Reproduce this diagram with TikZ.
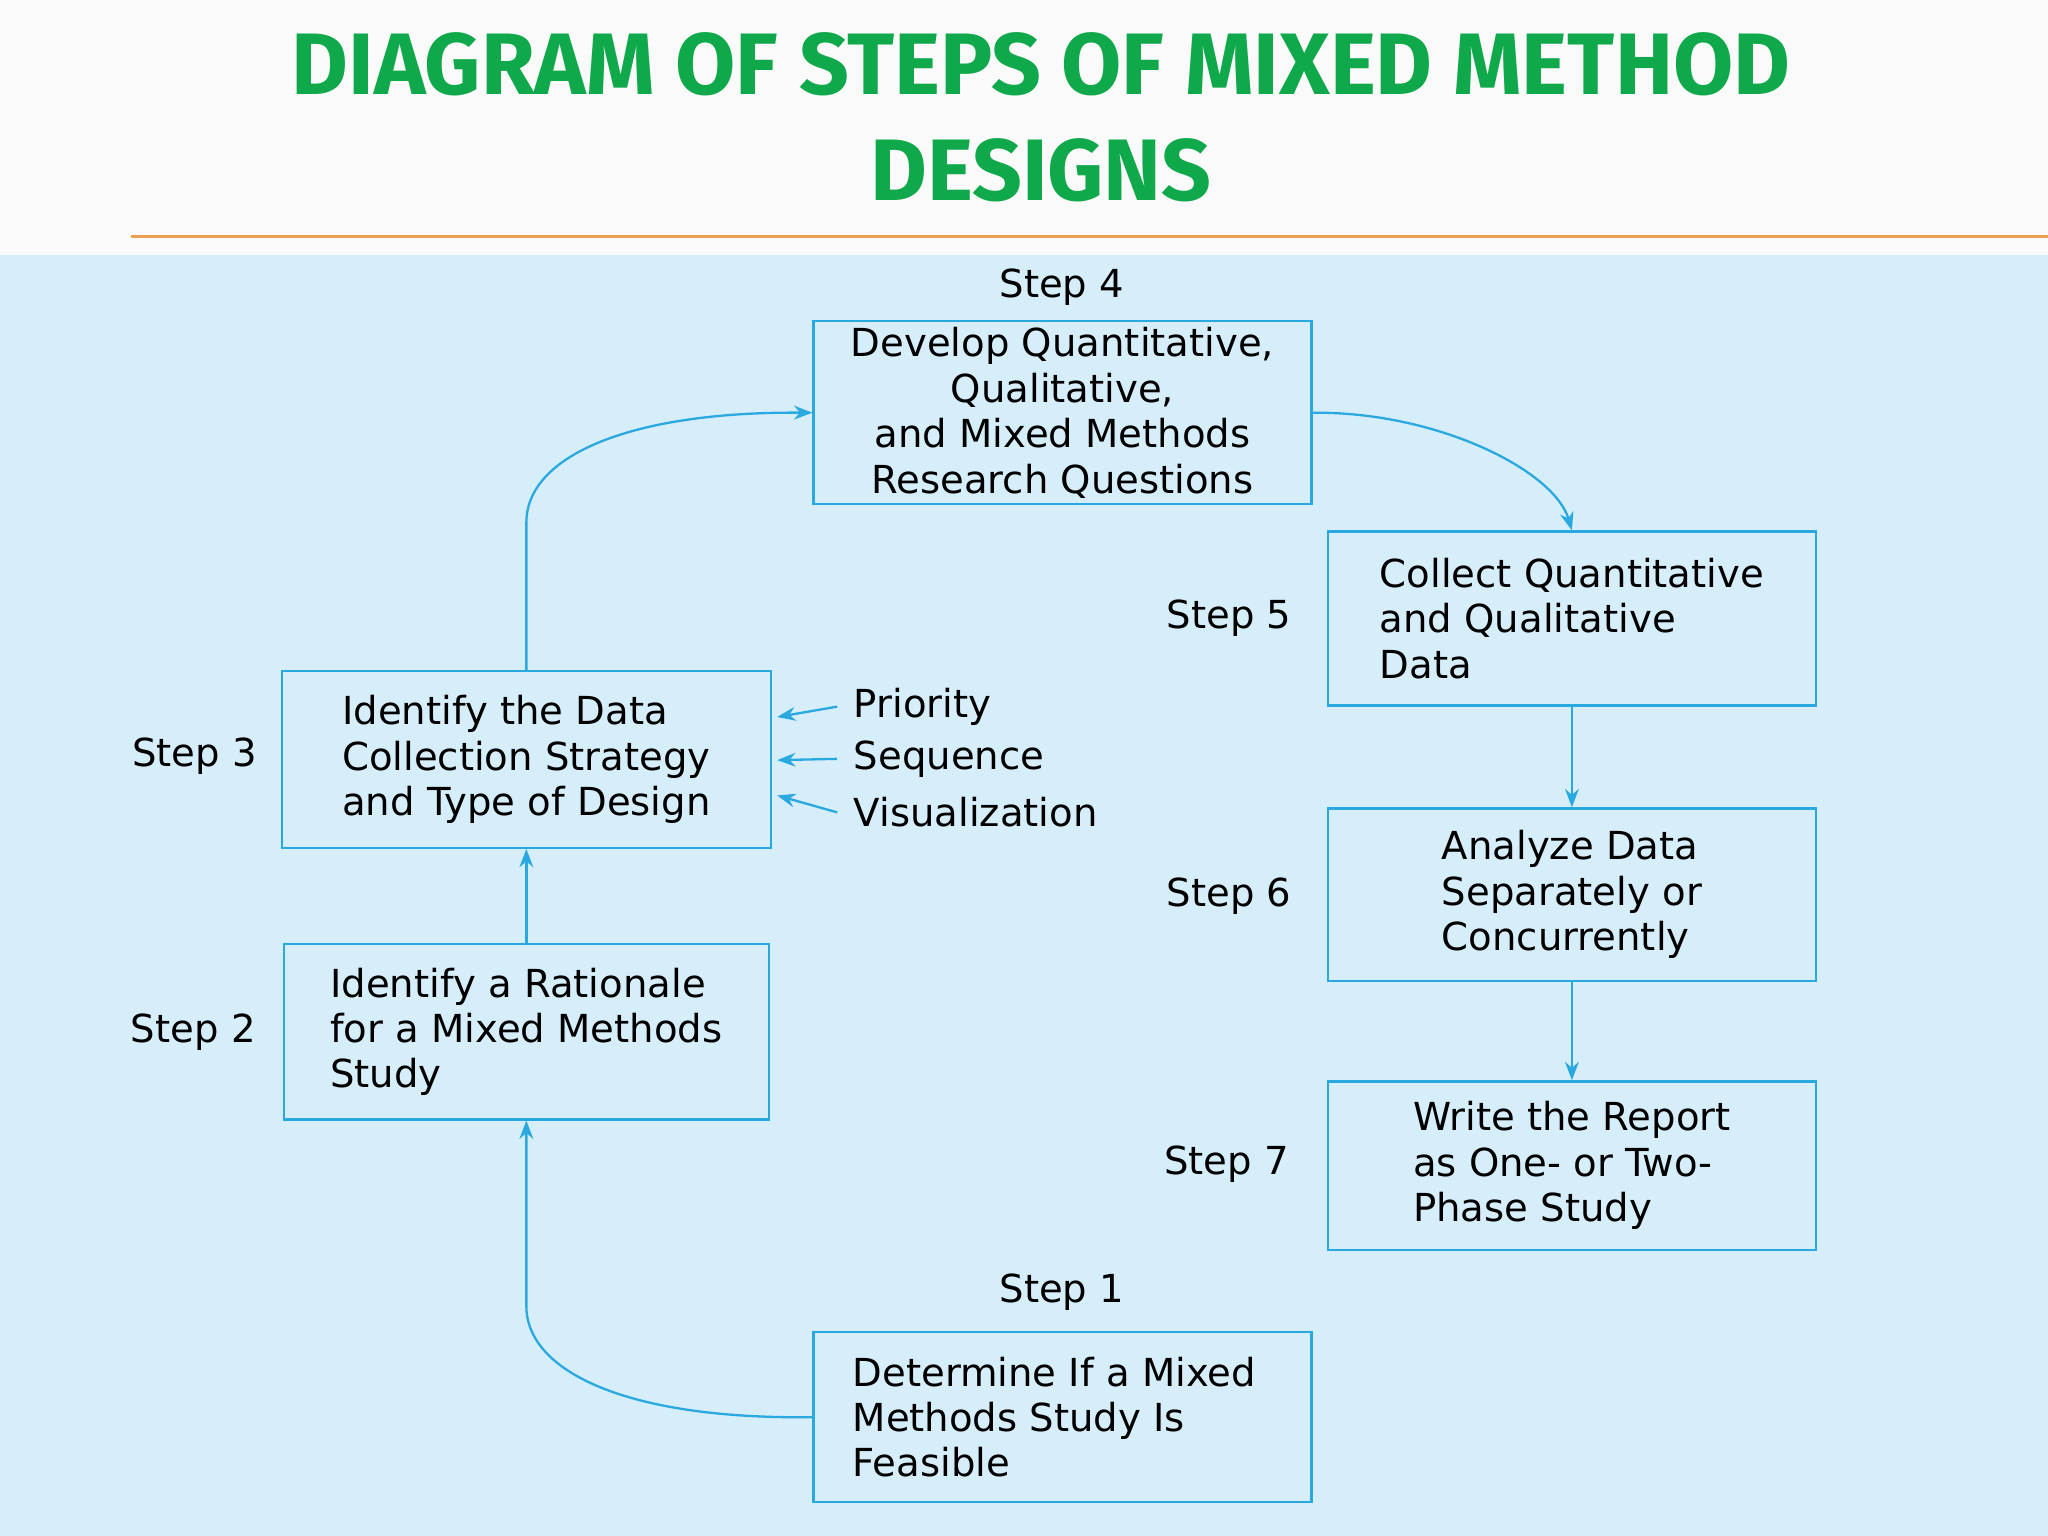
\documentclass[tikz,border=0pt]{standalone}
\usepackage{fontspec}
\setmainfont{DejaVu Sans}
\newfontfamily\titlefont{Fira Sans}
\usetikzlibrary{arrows.meta}
\definecolor{bg}{HTML}{D6EEFA}
\definecolor{ln}{HTML}{2AA8E0}
\definecolor{ttl}{HTML}{0FA84A}
\definecolor{rule}{HTML}{E8A050}
\begin{document}
\begin{tikzpicture}[x=0.01cm,y=-0.01cm,
  box/.style={draw=ln,line width=0.5pt,fill=bg,align=left,font=\fontsize{8.4}{9.9}\selectfont,inner sep=0pt},
  lbl/.style={font=\fontsize{8.4}{9.9}\selectfont,inner sep=0pt},
  arr/.style={draw=ln,line width=0.5pt,-{Stealth[length=4pt,width=3pt]}}]
\useasboundingbox (0,0) rectangle (1568,1176);
\fill[white!96!gray] (0,0) rectangle (1568,195);
\fill[bg] (0,195) rectangle (1568,1176);
\draw[rule,line width=0.7pt] (100,181) -- (1568,181);
\node[text=ttl,font=\titlefont\bfseries\fontsize{19}{23}\selectfont,align=center] (title) at (797,90) {DIAGRAM OF STEPS OF MIXED METHOD\\DESIGNS};

\node[box,align=center,minimum width=3.81cm,minimum height=1.40cm] (s4) at (813.5,316) {Develop Quantitative,\\Qualitative,\\and Mixed Methods\\Research Questions};
\node[box,minimum width=3.73cm,minimum height=1.33cm] (s5) at (1203.5,473.5) {Collect Quantitative\\and Qualitative\\Data\hspace{7.5em}\mbox{}};
\node[box,minimum width=3.73cm,minimum height=1.32cm] (s6) at (1203.5,685) {Analyze Data\\Separately or\\Concurrently};
\node[box,minimum width=3.73cm,minimum height=1.29cm] (s7) at (1203.5,892.5) {Write the Report\\as One- or Two-\\Phase Study};
\node[box,minimum width=3.81cm,minimum height=1.30cm] (s1) at (813.5,1085) {Determine If a Mixed\\Methods Study Is\\Feasible\hspace{6.8em}\mbox{}};
\node[box,minimum width=3.71cm,minimum height=1.34cm] (s2) at (403,790) {Identify a Rationale\\for a Mixed Methods\\Study};
\node[box,minimum width=3.74cm,minimum height=1.35cm] (s3) at (403,581.5) {Identify the Data\\Collection Strategy\\and Type of Design};

\node[lbl] (l4) at (813,220) {Step 4};
\node[lbl] (l5) at (941,473) {Step 5};
\node[lbl] (l6) at (941,686) {Step 6};
\node[lbl] (l7) at (939,891) {Step 7};
\node[lbl] (l1) at (813,989) {Step 1};
\node[lbl] (l3) at (149,579) {Step 3};
\node[lbl] (l2) at (148,790) {Step 2};

\node[lbl,anchor=west] (pr) at (653,541) {Priority};
\node[lbl,anchor=west] (sq) at (653,581) {Sequence};
\node[lbl,anchor=west] (vi) at (653,622) {Visualization};
\coordinate (pa) at (595,549);
\coordinate (sa) at (595,582);
\coordinate (va) at (595,609);
\draw[arr] ([xshift=-0.12cm]pr.west) -- (pa);
\draw[arr] ([xshift=-0.12cm]sq.west) -- (sa);
\draw[arr] ([xshift=-0.12cm]vi.west) -- (va);

\draw[arr] (s1.west) .. controls (480,1087) and (403,1050) .. (403,1000) -- (s2.south);
\draw[arr] (s2.north) -- (s3.south);
\draw[arr] (s3.north) -- (403,400) .. controls (403,350) and (480,315) .. (s4.west);
\draw[arr] (s4.east) .. controls (1100,315) and (1190,360) .. (s5.north);
\draw[arr] (s5.south) -- (s6.north);
\draw[arr] (s6.south) -- (s7.north);
\end{tikzpicture}
\end{document}
